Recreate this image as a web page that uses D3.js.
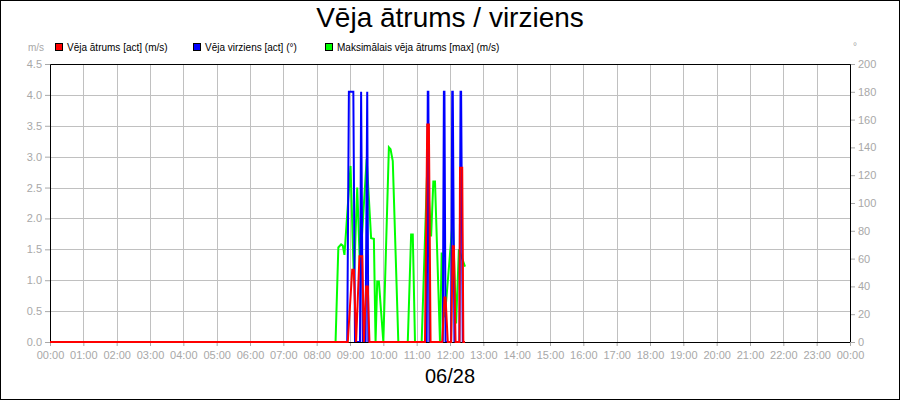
<!DOCTYPE html>
<html>
<head>
<meta charset="utf-8">
<script src="https://cdn.jsdelivr.net/npm/d3@7"></script>
<style>
  body { margin: 0; background: #fff; }
  svg { font-family: "Liberation Sans", Arial, sans-serif; }
</style>
</head>
<body>
<svg id="drawing_region"></svg>
<script>
// series: times (HH:MM) and values
const speedTimes = ['00:00','08:56','09:04','09:07','09:11','09:17','09:22','09:25','09:29','09:32','09:35',
    '11:15','11:19','11:22','11:25','11:46','11:50','11:52','11:56','12:02','12:05','12:07','12:10',
    '12:17','12:18','12:22','12:24','12:27'];
const speedValues = [0,0,1.17,1.17,0,1.39,1.39,0,0.9,0.9,0,
    0,3.52,3.52,0,0,0.72,0.72,0,0,1.55,1.55,0,
    0,2.82,2.82,0,0];

const dirTimes = ['00:00','08:55','08:58','09:06','09:09','09:18','09:20','09:23','09:28','09:31','09:33',
    '11:18','11:20','11:21','11:23','11:47','11:49','11:50','11:52','12:02','12:04','12:05','12:08',
    '12:17','12:19','12:20','12:23','12:27'];
const dirValues = [0,0,180,180,0,0,180,0,0,180,0,
    0,180,180,0,0,180,180,0,0,180,180,0,
    0,180,180,0,0];

const gustTimes = ['00:00','08:34','08:39','08:44','08:47','08:50','09:01','09:07','09:13','09:18','09:30',
    '09:38','09:43','09:46','09:49','09:52','10:00','10:10','10:13','10:17','10:27','10:44','10:50',
    '10:53','10:57','11:09','11:19','11:26','11:30','11:33','11:42','11:45','11:49','11:53','12:05',
    '12:11','12:16','12:27'];
const gustValues = [0,0,1.53,1.58,1.56,1.41,2.85,1.0,2.5,1.2,2.96,
    1.68,1.67,0,0.98,0.98,0,3.15,3.12,2.93,0,0,1.74,
    1.74,0,0,2.8,1.71,2.6,2.6,0,1.45,0.4,0.65,1.98,
    0.3,1.5,1.22];

const leftTicks = [0,0.5,1,1.5,2,2.5,3,3.5,4,4.5];
const rightTicks = [0,20,40,60,80,100,120,140,160,180,200];
const hourTicks = d3.range(0, 25);

const legendNames = ['Vēja ātrums [act] (m/s)', 'Vēja virziens [act] (°)', 'Maksimālais vēja ātrums [max] (m/s)'];
const legendColors = ['#ff0000', '#0000ff', '#00ff00'];

const toMin = s => { const p = s.split(':'); return +p[0] * 60 + +p[1]; };
const zip = (t, v) => t.map((d, i) => ({ m: toMin(d), v: v[i] }));

const W = 900, H = 400;
const margin = { top: 64, right: 50, bottom: 58, left: 50 };
const iw = W - margin.left - margin.right;
const ih = H - margin.top - margin.bottom;
const grey = '#a8a8a8';

const svg = d3.select('#drawing_region').attr('width', W).attr('height', H);

svg.append('rect')
    .attr('x', 0.5).attr('y', 0.5).attr('width', W - 1).attr('height', H - 1)
    .attr('fill', '#fff').attr('stroke', '#000');

const chart = svg.append('g').attr('transform', `translate(${margin.left}, ${margin.top})`);

const xscale = d3.scaleLinear().domain([0, 1440]).range([0, iw]);
const yleft = d3.scaleLinear().domain([0, 4.5]).range([ih, 0]);
const yright = d3.scaleLinear().domain([0, 200]).range([ih, 0]);

// grid
chart.append('g').selectAll('line').data(hourTicks).join('line')
    .attr('x1', d => Math.round(xscale(d * 60)) + 0.5).attr('x2', d => Math.round(xscale(d * 60)) + 0.5)
    .attr('y1', 0).attr('y2', ih)
    .attr('stroke', '#c0c0c0');
chart.append('g').selectAll('line').data(leftTicks).join('line')
    .attr('x1', 0).attr('x2', iw)
    .attr('y1', d => Math.round(yleft(d)) + 0.5).attr('y2', d => Math.round(yleft(d)) + 0.5)
    .attr('stroke', '#c0c0c0');

// axes
const styleAxis = g => {
    g.select('.domain').remove();
    g.selectAll('line').attr('stroke', grey);
    g.selectAll('text').attr('fill', grey).attr('font-size', '11px')
        .attr('font-family', '"Liberation Sans", Arial, sans-serif');
};

chart.append('g')
    .attr('transform', `translate(0, ${ih})`)
    .call(d3.axisBottom(xscale).tickValues(hourTicks.map(h => h * 60)).tickSize(4).tickPadding(5)
        .tickFormat(d => d3.format('02d')((d / 60) % 24) + ':00'))
    .call(styleAxis);

chart.append('g')
    .call(d3.axisLeft(yleft).tickValues(leftTicks).tickSize(5).tickPadding(3).tickFormat(d3.format('.1f')))
    .call(styleAxis);

chart.append('g')
    .attr('transform', `translate(${iw}, 0)`)
    .call(d3.axisRight(yright).tickValues(rightTicks).tickSize(5).tickPadding(3))
    .call(styleAxis);

// series
const lineL = d3.line().x(d => xscale(d.m)).y(d => yleft(d.v));
const lineR = d3.line().x(d => xscale(d.m)).y(d => yright(d.v));

chart.append('path').datum(zip(gustTimes, gustValues))
    .attr('d', lineL).attr('fill', 'none').attr('stroke', legendColors[2]).attr('stroke-width', 2);
chart.append('path').datum(zip(dirTimes, dirValues))
    .attr('d', lineR).attr('fill', 'none').attr('stroke', legendColors[1]).attr('stroke-width', 2);

// frame
chart.append('path')
    .attr('d', `M0.5,${ih} V0.5 H${iw + 0.5} V${ih}`)
    .attr('fill', 'none').attr('stroke', '#000');
chart.append('line')
    .attr('x1', 0).attr('x2', iw).attr('y1', ih + 0.5).attr('y2', ih + 0.5)
    .attr('stroke', '#000');
// red on top, over the baseline
chart.append('path').datum(zip(speedTimes, speedValues))
    .attr('d', lineL).attr('fill', 'none').attr('stroke', legendColors[0]).attr('stroke-width', 2);

// titles
svg.append('text')
    .attr('x', 450).attr('y', 27)
    .attr('text-anchor', 'middle').attr('font-size', '28px')
    .text('Vēja ātrums / virziens');

svg.append('text')
    .attr('x', 450).attr('y', 383)
    .attr('text-anchor', 'middle').attr('font-size', '20px')
    .text('06/28');

svg.append('text')
    .attr('x', 44).attr('y', 51).attr('text-anchor', 'end')
    .attr('font-size', '10px').attr('fill', grey)
    .text('m/s');

svg.append('text')
    .attr('x', 853).attr('y', 50)
    .attr('font-size', '10px').attr('fill', grey)
    .text('°');

// legend
const legendX = [55, 193, 325];
const legend = svg.append('g').selectAll('g').data(legendNames).join('g')
    .attr('transform', (d, i) => `translate(${legendX[i]}, 43)`);
legend.append('rect')
    .attr('x', 0.5).attr('y', 0.5).attr('width', 7).attr('height', 7)
    .attr('fill', (d, i) => legendColors[i]).attr('stroke', '#000');
legend.append('text')
    .attr('x', 12).attr('y', 7.5)
    .attr('font-size', '10px')
    .text(d => d);
</script>
</body>
</html>
